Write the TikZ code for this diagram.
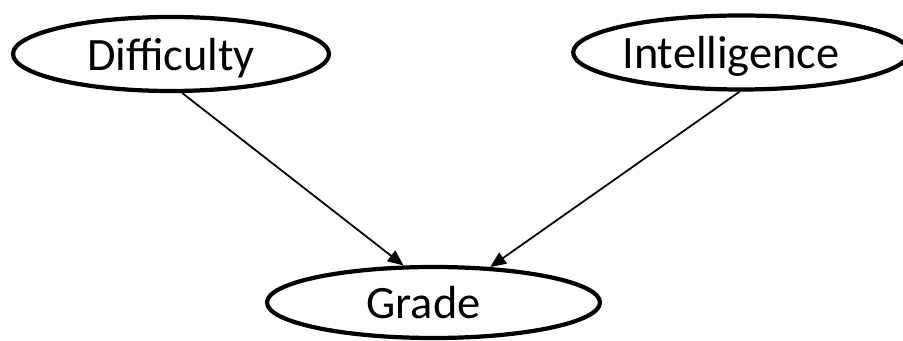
\documentclass[tikz,border=0pt]{standalone}
\usepackage{fontspec}
\setmainfont{Carlito}
\usetikzlibrary{shapes.geometric, arrows.meta}

\begin{document}
\begin{tikzpicture}[
        var/.style={draw, ellipse, line width=1.2pt, inner sep=0pt, minimum height=0.74cm, text depth=0pt, font=\fontsize{13.2}{15}\selectfont},
        edge/.style={line width=0.5pt, -{Triangle[length=4.5pt, width=3.8pt]}}
    ]
        \useasboundingbox (0, 0) rectangle (9.03, 3.41);

        % the three variables
        \node[var, minimum width=3.16cm] (diff) at (1.71, 2.87) {Difficulty};
        \node[var, minimum width=3.18cm] (intel) at (7.41, 2.885) {Intelligence\hspace*{0.2cm}};
        \node[var, minimum width=3.33cm, minimum height=0.71cm] (grade) at (4.335, 0.385) {Grade\hspace*{0.2cm}};

        % parents -> child
        \draw[edge] (diff.-74) -- (grade.129);
        \draw[edge] (intel.-92) -- (grade.32);
\end{tikzpicture}
\end{document}
